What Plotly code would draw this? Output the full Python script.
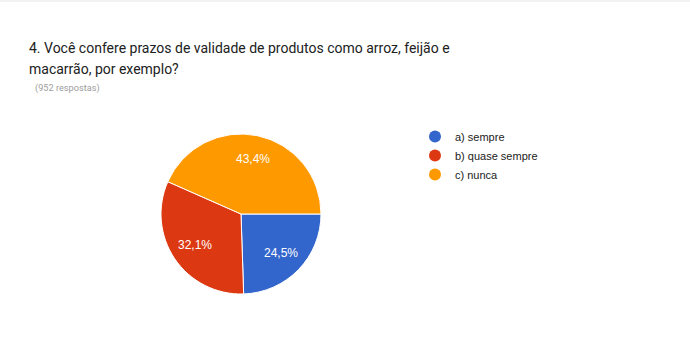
import math
import plotly.graph_objects as go

categories = ["a) sempre", "b) quase sempre", "c) nunca"]
values = [233, 306, 413]
colors = ["#3366cc", "#dc3912", "#ff9900"]
title_lines = ["4. Você confere prazos de validade de produtos como arroz, feijão e",
               "macarrão, por exemplo?"]
subtitle = "(952 respostas)"

W, H = 690, 358
CX, CY, R = 241, 214, 80  # pie centre / radius in px

fig = go.Figure()
fig.add_trace(go.Pie(
    labels=categories, values=values, sort=False, direction="clockwise", rotation=90,
    marker=dict(colors=colors, line=dict(color="white", width=1)),
    textinfo="none", showlegend=False, hoverinfo="label+percent",
    domain=dict(x=[(CX - R) / W, (CX + R) / W], y=[(H - CY - R) / H, (H - CY + R) / H]),
))
for c, col in zip(categories, colors):
    fig.add_trace(go.Scatter(x=[None], y=[None], mode="markers", name=c,
                             marker=dict(symbol="circle", size=11, color=col)))

# slice labels at 0.7 R along each slice's mid-angle (derived from the values)
total = sum(values)
annotations = []
start = 0.0
for v in values:
    frac = v / total
    mid = (start + frac / 2) * 2 * math.pi  # clockwise from east
    px = CX + 0.7 * R * math.cos(mid)
    py = CY + 0.7 * R * math.sin(mid)
    annotations.append(dict(
        text=f"{frac * 100:.1f}%".replace(".", ","), x=px / W, y=1 - py / H,
        xref="paper", yref="paper", showarrow=False, xanchor="center", yanchor="middle",
        font=dict(family="Arial, Liberation Sans", size=12, color="white")))
    start += frac

title_y = [48, 69]
for line, ty in zip(title_lines, title_y):
    annotations.append(dict(text=line, x=27 / W, y=1 - ty / H, xref="paper", yref="paper",
                            xanchor="left", yanchor="middle", showarrow=False,
                            font=dict(family="Roboto", size=14, color="#212121")))
annotations.append(dict(text=subtitle, x=33 / W, y=1 - 88 / H, xref="paper", yref="paper",
                        xanchor="left", yanchor="middle", showarrow=False,
                        font=dict(family="Roboto", size=9.2, color="#9e9e9e")))

fig.update_layout(
    width=W, height=H, margin=dict(l=0, r=0, t=0, b=0),
    paper_bgcolor="white", plot_bgcolor="white", separators=",.",
    xaxis=dict(visible=False), yaxis=dict(visible=False),
    legend=dict(x=415 / W, y=1 - 122 / H, xanchor="left", yanchor="top", bgcolor="rgba(0,0,0,0)",
                font=dict(family="Arial, Liberation Sans", size=11, color="#222222"),
                tracegroupgap=0, itemsizing="constant"),
    annotations=annotations,
    shapes=[dict(type="line", xref="paper", yref="paper", x0=0, x1=1, y0=1 - 1 / H, y1=1 - 1 / H,
                 line=dict(color="#e6e6e6", width=1))],
)
fig.write_html("out.html", config={"displayModeBar": False},
               post_script="document.body.style.margin='0';")
